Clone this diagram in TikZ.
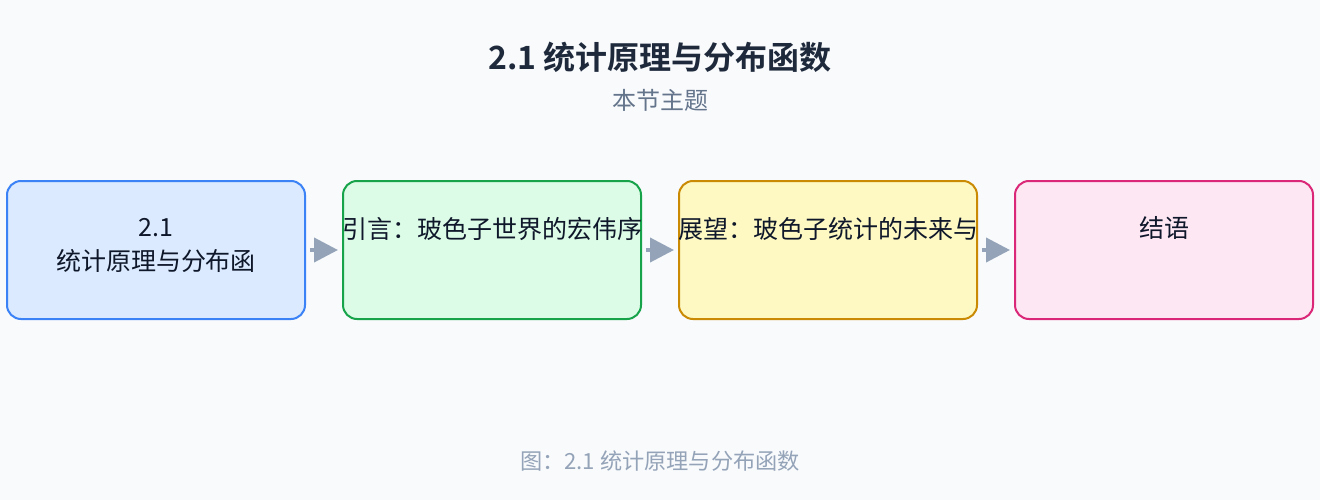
\documentclass[tikz,border=0pt]{standalone}
\usepackage{fontspec}
\setmainfont{Noto Sans CJK SC}
\newfontfamily\cjkbold{Noto Sans CJK SC Bold}
\usetikzlibrary{arrows.meta}
\definecolor{bgc}{HTML}{F8FAFC}
\definecolor{titlec}{HTML}{1E293B}
\definecolor{subc}{HTML}{64748B}
\definecolor{capc}{HTML}{94A3B8}
\definecolor{arrc}{HTML}{94A3B8}
\definecolor{txtc}{HTML}{0F172A}
\definecolor{fA}{HTML}{DBEAFE}\definecolor{sA}{HTML}{3B82F6}
\definecolor{fB}{HTML}{DCFCE7}\definecolor{sB}{HTML}{16A34A}
\definecolor{fC}{HTML}{FEF9C3}\definecolor{sC}{HTML}{CA8A04}
\definecolor{fD}{HTML}{FCE7F3}\definecolor{sD}{HTML}{DB2777}
\tikzset{
  stepbox/.style={draw, line width=2pt, rounded corners=14pt, minimum width=298pt, minimum height=138pt, inner sep=0pt},
  boxtext/.style={text=txtc, font=\fontsize{25}{34}\selectfont, align=center, inner sep=0pt},
  flow/.style={draw=arrc, line width=4pt, -{Triangle[length=24pt,width=24pt]}, shorten <=4pt, shorten >=4pt},
}
\begin{document}
\begin{tikzpicture}[x=1pt,y=-1pt]
\fill[bgc] (0,0) rectangle (1320,500);
\useasboundingbox (0,0) rectangle (1320,500);
\node[text=titlec, font=\cjkbold\fontsize{32}{38}\selectfont, inner sep=0pt] (title) at (660,57) {2.1 统计原理与分布函数};
\node[text=subc, font=\fontsize{24}{28}\selectfont, inner sep=0pt] (sub) at (660,100) {本节主题};
\node[stepbox, fill=fA, draw=sA] (b1) at (156,250) {};
\node[stepbox, fill=fB, draw=sB] (b2) at (492,250) {};
\node[stepbox, fill=fC, draw=sC] (b3) at (828,250) {};
\node[stepbox, fill=fD, draw=sD] (b4) at (1164,250) {};
\node[boxtext] (t1) at (156,245.5) {2.1\\统计原理与分布函};
\node[boxtext] (t2) at (492,229) {引言：玻色子世界的宏伟序};
\node[boxtext] (t3) at (828,229) {展望：玻色子统计的未来与};
\node[boxtext] (t4) at (1164,228) {结语};
\draw[flow] (b1.east) -- (b2.west);
\draw[flow] (b2.east) -- (b3.west);
\draw[flow] (b3.east) -- (b4.west);
\node[text=capc, font=\fontsize{22.2}{26}\selectfont, inner sep=0pt] (cap) at (660,461) {图：2.1 统计原理与分布函数};
\end{tikzpicture}
\end{document}
